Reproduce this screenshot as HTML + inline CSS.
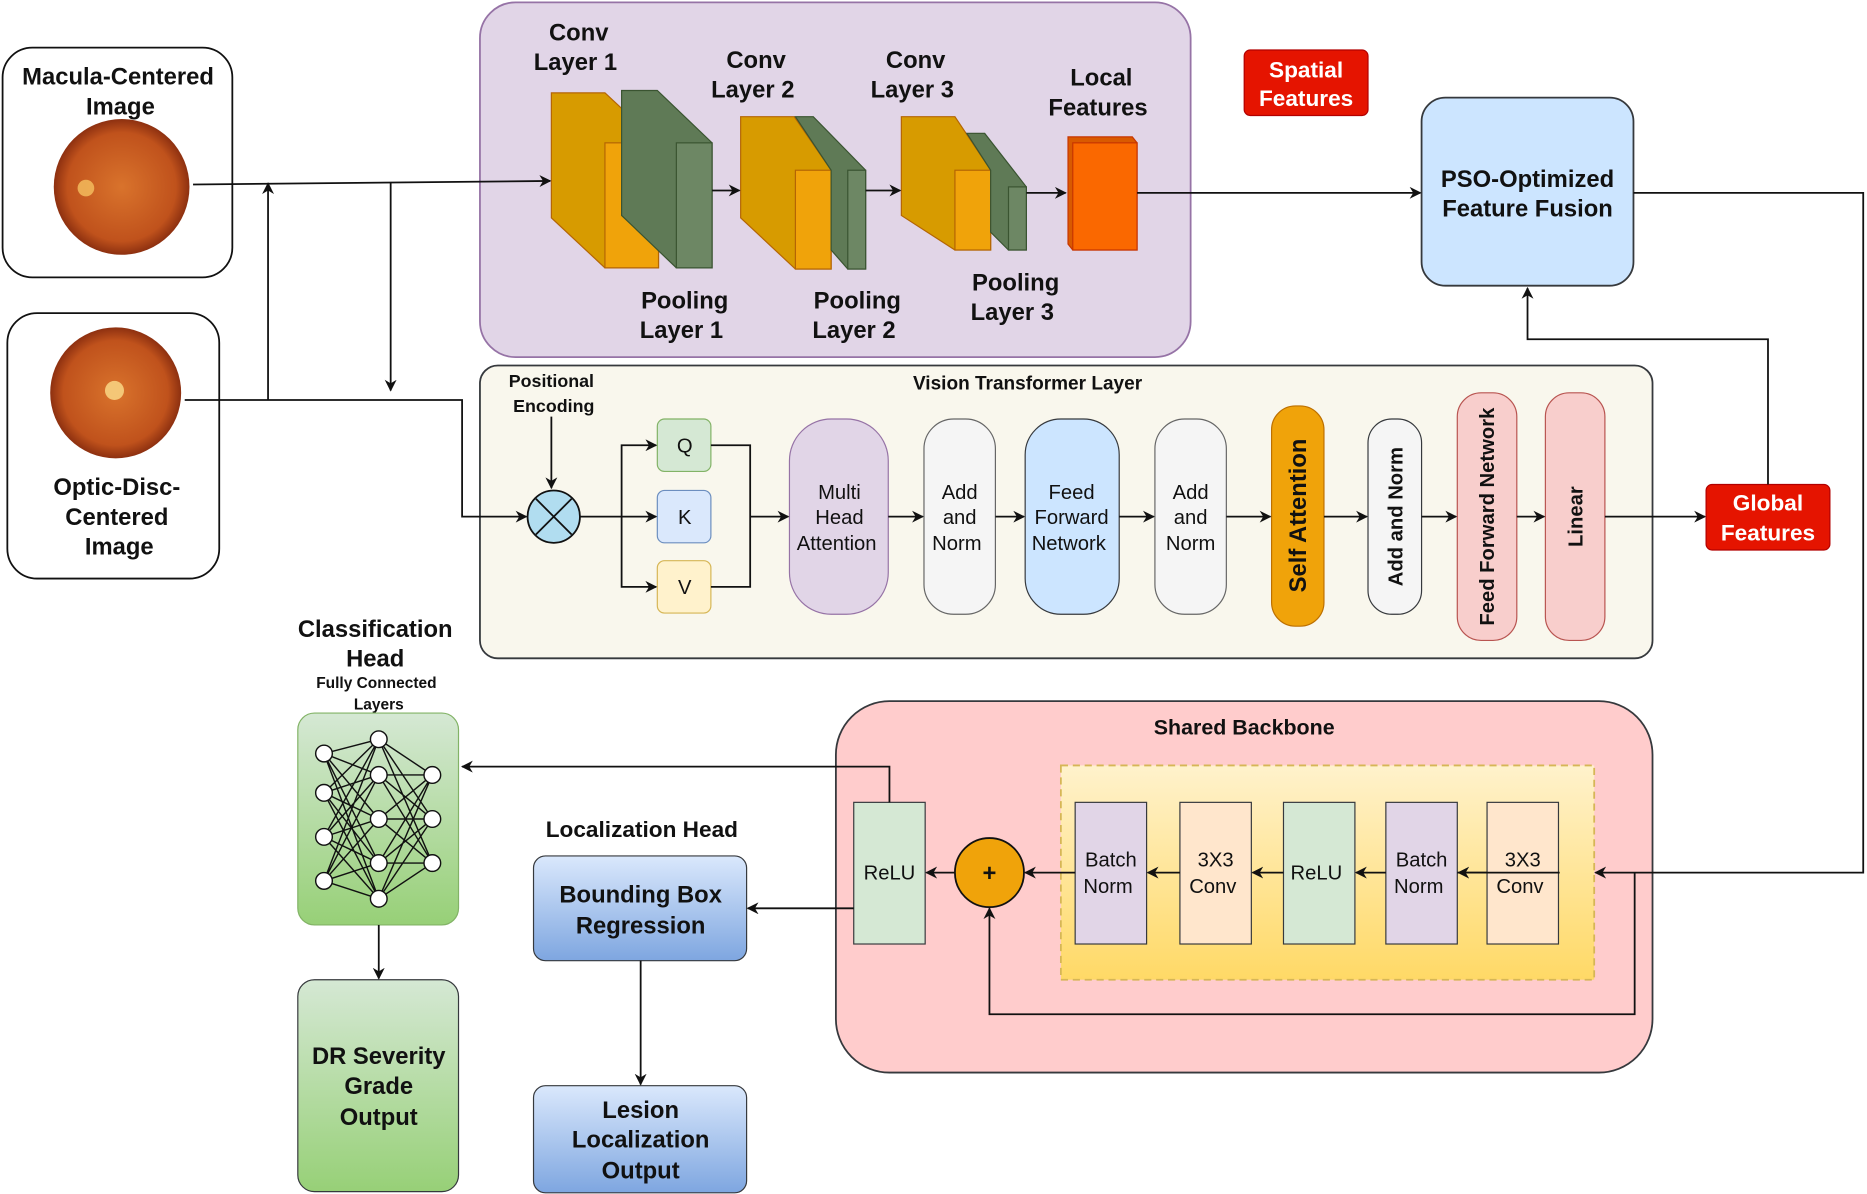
<!DOCTYPE html>
<html><head><meta charset="utf-8"><style>
html,body{margin:0;padding:0;background:#fff;}
svg{display:block;}
text{font-family:"Liberation Sans",Arial,sans-serif;fill:#111;}
.b{font-weight:bold;}
</style></head><body>
<svg width="1867" height="1194" viewBox="0 0 1568 1003" xmlns="http://www.w3.org/2000/svg">
<defs>
<marker id="a" markerWidth="10" markerHeight="10" refX="9" refY="5" orient="auto" markerUnits="userSpaceOnUse"><path d="M0,0 L10,5 L0,10 L3,5 z" fill="#111"/></marker>
<radialGradient id="fund" cx="50%" cy="50%" r="50%"><stop offset="0" stop-color="#d9732c"/><stop offset="0.8" stop-color="#c0521c"/><stop offset="1" stop-color="#8d3010"/></radialGradient>
<linearGradient id="gg" x1="0" y1="0" x2="0" y2="1"><stop offset="0" stop-color="#d5e8d4"/><stop offset="1" stop-color="#97d077"/></linearGradient>
<linearGradient id="bg" x1="0" y1="0" x2="0" y2="1"><stop offset="0" stop-color="#dae8fc"/><stop offset="1" stop-color="#7ea6e0"/></linearGradient>
<linearGradient id="yg" x1="0" y1="0" x2="0" y2="1"><stop offset="0" stop-color="#fff2cc"/><stop offset="1" stop-color="#ffd966"/></linearGradient>
</defs>
<g stroke="#111" stroke-width="1.5" fill="none">
<!-- input boxes -->
<rect x="2" y="40" width="193" height="193" rx="25" fill="#fff"/>
<rect x="6" y="263" width="178" height="223" rx="25" fill="#fff"/>
<!-- CNN -->
<rect x="403" y="2" width="597" height="298" rx="30" fill="#e1d5e7" stroke="#9673a6"/>
<!-- PSO -->
<rect x="1194" y="82" width="178" height="158" rx="20" fill="#cce5ff" stroke="#36393d"/>
<!-- ViT -->
<rect x="403" y="307" width="985" height="246" rx="15" fill="#f9f7ed" stroke="#36393d"/>
<!-- Backbone -->
<rect x="702" y="589" width="686" height="312" rx="45" fill="#ffcccc" stroke="#36393d"/>
<rect x="891" y="643" width="448" height="180" fill="url(#yg)" stroke="#d6b656" stroke-dasharray="6 4"/>
</g>
<!-- fundus images -->
<circle cx="102" cy="157" r="57" fill="url(#fund)"/>
<circle cx="72" cy="158" r="7" fill="#f5c060" opacity="0.8"/>
<circle cx="97" cy="330" r="55" fill="url(#fund)"/>
<circle cx="96" cy="328" r="8" fill="#f7d080" opacity="0.9"/>
<text class="b" font-size="20" text-anchor="middle"><tspan x="99" y="71">Macula-Centered</tspan><tspan x="101" y="96">Image</tspan></text>
<text class="b" font-size="20" text-anchor="middle"><tspan x="98" y="416">Optic-Disc-</tspan><tspan x="98" y="441">Centered</tspan><tspan x="100" y="466">Image</tspan></text>
<!-- cubes -->
<g stroke="#b46504" stroke-width="1">
<polygon points="463,78 508,78 553,120 553,225 508,225 463,183" fill="#d79b00"/>
<rect x="508" y="120" width="45" height="105" fill="#f0a30a"/>
<polygon points="622,98 667,98 698,143 698,226 668,226 622,183" fill="#d79b00"/>
<rect x="668" y="143" width="30" height="83" fill="#f0a30a"/>
<polygon points="757,98 802,98 832,143 832,210 802,210 757,181" fill="#d79b00"/>
<rect x="802" y="143" width="30" height="67" fill="#f0a30a"/>
</g>
<g stroke="#3a5431" stroke-width="1">
<polygon points="522,76 552,76 598,120 598,225 568,225 522,181" fill="#5f7a56"/>
<rect x="568" y="120" width="30" height="105" fill="#6d8764"/>
<polygon points="668,98 683,98 727,143 727,226 712,226 698,210 698,143" fill="#5f7a56"/>
<rect x="712" y="143" width="15" height="83" fill="#6d8764"/>
<polygon points="812,112 827,112 862,157 862,210 847,210 832,195 832,143" fill="#5f7a56"/>
<rect x="847" y="157" width="15" height="53" fill="#6d8764"/>
<polygon points="897,115 951,115 955,120 955,210 901,210 897,205" fill="#d95a00" stroke="#c73500"/>
<rect x="901" y="120" width="54" height="90" fill="#fa6800" stroke="#c73500"/>
</g>
<text class="b" font-size="20" text-anchor="middle">
<tspan x="486" y="34">Conv</tspan><tspan x="486" y="59">Layer 1</tspan>
<tspan x="635" y="57">Conv</tspan><tspan x="635" y="82">Layer 2</tspan>
<tspan x="769" y="57">Conv</tspan><tspan x="769" y="82">Layer 3</tspan>
<tspan x="925" y="72">Local</tspan><tspan x="925" y="97">Features</tspan>
<tspan x="575" y="259">Pooling</tspan><tspan x="575" y="284">Layer 1</tspan>
<tspan x="720" y="259">Pooling</tspan><tspan x="720" y="284">Layer 2</tspan>
<tspan x="853" y="244">Pooling</tspan><tspan x="853" y="269">Layer 3</tspan>
<tspan x="1283" y="157">PSO-Optimized</tspan><tspan x="1283" y="182">Feature Fusion</tspan>
</text>
<rect x="1045" y="42" width="104" height="55" rx="5" fill="#e51400" stroke="#b20000"/>
<text class="b" font-size="19" text-anchor="middle" style="fill:#fff"><tspan x="1097" y="65">Spatial</tspan><tspan x="1097" y="89">Features</tspan></text>
<rect x="1433" y="407" width="104" height="55" rx="5" fill="#e51400" stroke="#b20000"/>
<text class="b" font-size="19" text-anchor="middle" style="fill:#fff"><tspan x="1485" y="429">Global</tspan><tspan x="1485" y="454">Features</tspan></text>
<!-- ViT contents -->
<text class="b" font-size="16" text-anchor="middle" x="863" y="327">Vision Transformer Layer</text>
<text class="b" font-size="15" text-anchor="middle"><tspan x="463" y="325">Positional</tspan><tspan x="465" y="346">Encoding</tspan></text>
<circle cx="465" cy="434" r="22" fill="#b1ddf0" stroke="#111" stroke-width="1.5"/>
<path d="M450,419 L480,449 M480,419 L450,449" stroke="#111" stroke-width="1.5"/>
<rect x="552" y="352" width="45" height="44" rx="6" fill="#d5e8d4" stroke="#82b366"/>
<rect x="552" y="412" width="45" height="44" rx="6" fill="#dae8fc" stroke="#6c8ebf"/>
<rect x="552" y="471" width="45" height="44" rx="6" fill="#fff2cc" stroke="#d6b656"/>
<text font-size="17" text-anchor="middle"><tspan x="575" y="380">Q</tspan><tspan x="575" y="440">K</tspan><tspan x="575" y="499">V</tspan></text>
<rect x="663" y="352" width="83" height="164" rx="35" fill="#e1d5e7" stroke="#9673a6"/>
<rect x="776" y="352" width="60" height="164" rx="25" fill="#f5f5f5" stroke="#666"/>
<rect x="861" y="352" width="79" height="164" rx="30" fill="#cce5ff" stroke="#36393d"/>
<rect x="970" y="352" width="60" height="164" rx="25" fill="#f5f5f5" stroke="#666"/>
<rect x="1068" y="341" width="44" height="185" rx="20" fill="#f0a30a" stroke="#bd7000"/>
<rect x="1149" y="352" width="45" height="164" rx="20" fill="#f5f5f5" stroke="#36393d"/>
<rect x="1224" y="330" width="50" height="208" rx="20" fill="#f8cecc" stroke="#b85450"/>
<rect x="1298" y="330" width="50" height="208" rx="20" fill="#f8cecc" stroke="#b85450"/>
<text font-size="17" text-anchor="middle">
<tspan x="705" y="419">Multi</tspan><tspan x="705" y="440">Head</tspan><tspan x="705" y="462">Attention</tspan>
<tspan x="806" y="419">Add</tspan><tspan x="806" y="440">and</tspan><tspan x="806" y="462">Norm</tspan>
<tspan x="900" y="419">Feed</tspan><tspan x="900" y="440">Forward</tspan><tspan x="900" y="462">Network</tspan>
<tspan x="1000" y="419">Add</tspan><tspan x="1000" y="440">and</tspan><tspan x="1000" y="462">Norm</tspan>
</text>
<text class="b" font-size="20" text-anchor="middle" transform="translate(1097,433) rotate(-90)">Self  Attention</text>
<text class="b" font-size="17" text-anchor="middle" transform="translate(1178,434) rotate(-90)">Add and Norm</text>
<text class="b" font-size="17" text-anchor="middle" transform="translate(1255,434) rotate(-90)">Feed Forward Network</text>
<text class="b" font-size="17" text-anchor="middle" transform="translate(1329,434) rotate(-90)">Linear</text>
<!-- Backbone contents -->
<text class="b" font-size="18" text-anchor="middle" x="1045" y="617">Shared Backbone</text>
<g stroke="#36393d" stroke-width="1">
<rect x="903" y="674" width="60" height="119" fill="#e1d5e7"/>
<rect x="991" y="674" width="60" height="119" fill="#ffe6cc"/>
<rect x="1078" y="674" width="60" height="119" fill="#d5e8d4"/>
<rect x="1164" y="674" width="60" height="119" fill="#e1d5e7"/>
<rect x="1249" y="674" width="60" height="119" fill="#ffe6cc"/>
<rect x="717" y="674" width="60" height="119" fill="#d5e8d4"/>
</g>
<circle cx="831" cy="733" r="29" fill="#f0a30a" stroke="#111" stroke-width="1.5"/>
<text class="b" font-size="20" text-anchor="middle" x="831" y="740">+</text>
<text font-size="17" text-anchor="middle">
<tspan x="933" y="728">Batch</tspan><tspan x="933" y="750">Norm</tspan>
<tspan x="1021" y="728">3X3</tspan><tspan x="1021" y="750">Conv</tspan>
<tspan x="1108" y="739">ReLU</tspan>
<tspan x="1194" y="728">Batch</tspan><tspan x="1194" y="750">Norm</tspan>
<tspan x="1279" y="728">3X3</tspan><tspan x="1279" y="750">Conv</tspan>
<tspan x="747" y="739">ReLU</tspan>
</text>
<!-- heads -->
<text class="b" font-size="20" text-anchor="middle"><tspan x="315" y="535">Classification</tspan><tspan x="315" y="560">Head</tspan></text>
<text class="b" font-size="13" text-anchor="middle"><tspan x="316" y="578">Fully Connected</tspan><tspan x="318" y="596">Layers</tspan></text>
<rect x="250" y="599" width="135" height="178" rx="14" fill="url(#gg)" stroke="#82b366"/>
<g stroke="#111" stroke-width="1.2">
<path d="M272,633L318,621M272,633L318,651M272,633L318,688M272,633L318,725M272,633L318,755
M272,666L318,621M272,666L318,651M272,666L318,688M272,666L318,725M272,666L318,755
M272,703L318,621M272,703L318,651M272,703L318,688M272,703L318,725M272,703L318,755
M272,740L318,621M272,740L318,651M272,740L318,688M272,740L318,725M272,740L318,755
M318,621L363,651M318,621L363,688M318,621L363,725
M318,651L363,651M318,651L363,688M318,651L363,725
M318,688L363,651M318,688L363,688M318,688L363,725
M318,725L363,651M318,725L363,688M318,725L363,725
M318,755L363,651M318,755L363,688M318,755L363,725"/>
<g fill="#fff">
<circle cx="272" cy="633" r="7"/><circle cx="272" cy="666" r="7"/><circle cx="272" cy="703" r="7"/><circle cx="272" cy="740" r="7"/>
<circle cx="318" cy="621" r="7"/><circle cx="318" cy="651" r="7"/><circle cx="318" cy="688" r="7"/><circle cx="318" cy="725" r="7"/><circle cx="318" cy="755" r="7"/>
<circle cx="363" cy="651" r="7"/><circle cx="363" cy="688" r="7"/><circle cx="363" cy="725" r="7"/>
</g></g>
<rect x="250" y="823" width="135" height="178" rx="14" fill="url(#gg)" stroke="#36393d"/>
<text class="b" font-size="20" text-anchor="middle"><tspan x="318" y="894">DR Severity</tspan><tspan x="318" y="919">Grade</tspan><tspan x="318" y="945">Output</tspan></text>
<text class="b" font-size="19" text-anchor="middle" x="539" y="703">Localization Head</text>
<rect x="448" y="719" width="179" height="88" rx="10" fill="url(#bg)" stroke="#36393d"/>
<text class="b" font-size="20" text-anchor="middle"><tspan x="538" y="758">Bounding Box</tspan><tspan x="538" y="784">Regression</tspan></text>
<rect x="448" y="912" width="179" height="90" rx="10" fill="url(#bg)" stroke="#36393d"/>
<text class="b" font-size="20" text-anchor="middle"><tspan x="538" y="939">Lesion</tspan><tspan x="538" y="964">Localization</tspan><tspan x="538" y="990">Output</tspan></text>
<!-- connectors -->
<g stroke="#111" stroke-width="1.5" fill="none" marker-end="url(#a)">
<path d="M162,155 L462,152"/>
<path d="M598,160 L621,160"/>
<path d="M727,160 L756,160"/>
<path d="M862,162 L895,162"/>
<path d="M955,162 L1193,162"/>
<path d="M155,336 L388,336 L388,434 L442,434"/>
<path d="M225,336 L225,154"/>
<path d="M328,153 L328,328"/>
<path d="M463,350 L463,410"/>
<path d="M487,434 L551,434"/>
<path d="M522,434 L522,374 L551,374"/>
<path d="M522,434 L522,493 L551,493"/>
<path d="M630,434 L662,434"/>
<path d="M746,434 L775,434"/>
<path d="M836,434 L860,434"/>
<path d="M940,434 L969,434"/>
<path d="M1030,434 L1067,434"/>
<path d="M1112,434 L1148,434"/>
<path d="M1194,434 L1223,434"/>
<path d="M1274,434 L1297,434"/>
<path d="M1348,434 L1432,434"/>
<path d="M1485,407 L1485,285 L1283,285 L1283,242"/>
<path d="M1372,162 L1565,162 L1565,733 L1340,733"/>
<path d="M1249,733 L1310,733" marker-end="none"/>
<path d="M1249,733 L1224,733" marker-end="none"/>
<path d="M1249,733 L1225,733"/>
<path d="M1164,733 L1139,733"/>
<path d="M1078,733 L1052,733"/>
<path d="M991,733 L964,733"/>
<path d="M903,733 L861,733"/>
<path d="M802,733 L778,733"/>
<path d="M1373,733 L1373,852 L831,852 L831,763"/>
<path d="M747,674 L747,644 L388,644"/>
<path d="M717,763 L628,763"/>
<path d="M318,777 L318,822"/>
<path d="M538,807 L538,911"/>
</g>
<path d="M597,374 L630,374 L630,493 L597,493" stroke="#111" stroke-width="1.5" fill="none"/>
</svg>
</body></html>
